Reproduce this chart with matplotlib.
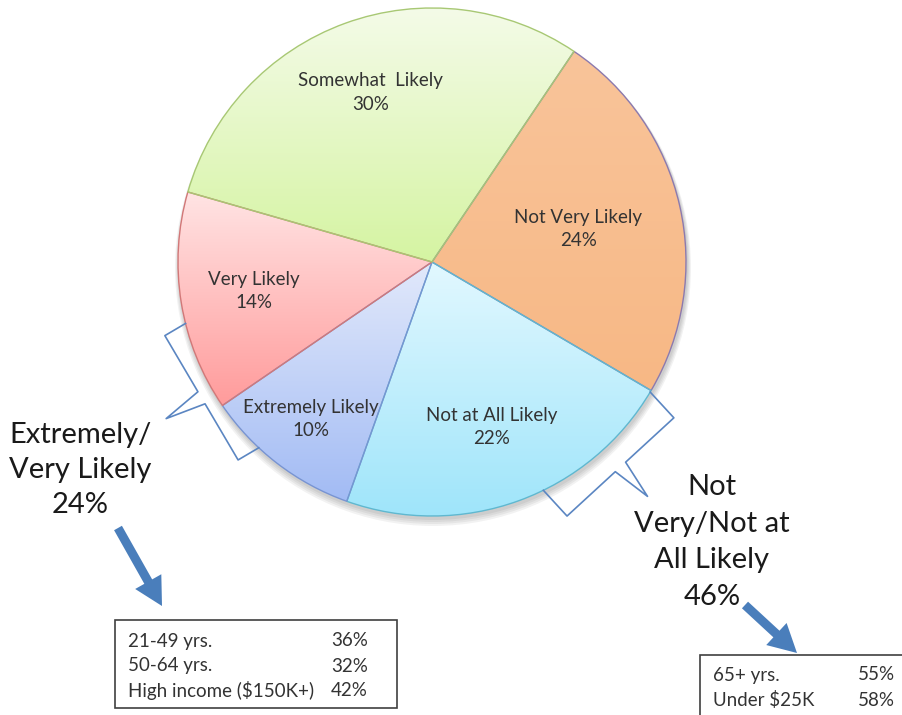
import numpy as np
import matplotlib
matplotlib.use("Agg")
import matplotlib.pyplot as plt
from matplotlib.colors import to_rgb
from matplotlib.patches import Rectangle, FancyArrow, Circle

plt.rc('font', family=['Lato', 'DejaVu Sans'])

# pie data (clockwise from the green/orange boundary)
labels = ["Not Very Likely", "Not at All Likely", "Extremely Likely", "Very Likely", "Somewhat  Likely"]
shares = [24, 22, 10, 14, 30]
top_colors = ["#f9c49a", "#e2f8ff", "#e2e9fb", "#ffe4e4", "#f4fbe8"]
bottom_colors = ["#f7b885", "#9fe5fa", "#a2bbf4", "#ff9b9b", "#d5f4a2"]
edge_colors = ["#8c7aae", "#5fb8d0", "#7894d2", "#d27878", "#a8c874"]
label_dist = [0.59, 0.69, 0.78, 0.71, 0.71]

# summary call-outs
group_left = "Extremely/\nVery Likely\n24%"
group_right = "Not\nVery/Not at\nAll Likely\n46%"
left_rows = ["21-49 yrs.", "50-64 yrs.", "High income ($150K+)"]
left_vals = ["36%", "32%", "42%"]
right_rows = ["65+ yrs.", "Under $25K"]
right_vals = ["55%", "58%"]

W, H = 902, 715
CX, CY, R = 432, H - 262, 254
TXT = "#333333"

fig = plt.figure(figsize=(W / 100, H / 100), dpi=100)
ax = fig.add_axes([0, 0, 1, 1])

# soft shadow under the pie
for i in range(4):
    ax.add_patch(Circle((CX + 1, CY - 3 - i), R + 1 + i, color="#000000", alpha=0.05, lw=0, zorder=1))

wedges, _ = ax.pie(shares, startangle=56, counterclock=False, center=(CX, CY), radius=R,
                   colors=bottom_colors, frame=True,
                   wedgeprops=dict(linewidth=1.0))
ax.set_xlim(0, W)
ax.set_ylim(0, H)
ax.set_aspect('equal')
ax.axis('off')

for w, c0, c1, ec in zip(wedges, top_colors, bottom_colors, edge_colors):
    w.set_edgecolor(ec)
    w.set_zorder(3)
    ext = w.get_path().get_extents()
    t = np.linspace(0, 1, 256)[:, None, None]
    grad = np.array(to_rgb(c1)) * (1 - t) + np.array(to_rgb(c0)) * t
    im = ax.imshow(grad, extent=(ext.x0, ext.x1, ext.y0, ext.y1), origin='lower',
                   aspect='auto', zorder=2, interpolation='bilinear')
    im.set_clip_path(w)
    w.set_facecolor('none')
ax.set_xlim(0, W)
ax.set_ylim(0, H)

# wedge labels
for w, lab, s, d in zip(wedges, labels, shares, label_dist):
    mid = np.deg2rad((w.theta1 + w.theta2) / 2)
    x = CX + d * R * np.cos(mid)
    y = CY + d * R * np.sin(mid)
    ax.text(x, y, f"{lab}\n{s}%", ha='center', va='center', fontsize=13.5,
            color=TXT, linespacing=1.45, zorder=5)


def brace(a0, a1, d1, d2, half=7):
    a0, a1 = np.deg2rad(a0), np.deg2rad(a1)
    p0 = np.array([CX + R * np.cos(a0), CY + R * np.sin(a0)])
    p1 = np.array([CX + R * np.cos(a1), CY + R * np.sin(a1)])
    along = (p1 - p0) / np.linalg.norm(p1 - p0)
    n = np.array([along[1], -along[0]])
    mid = (p0 + p1) / 2
    if np.dot(mid - np.array([CX, CY]), n) < 0:
        n = -n
    pts = [p0, p0 + n * d1, mid + n * d1 - along * half, mid + n * d2,
           mid + n * d1 + along * half, p1 + n * d1, p1]
    pts = np.array(pts)
    ax.plot(pts[:, 0], pts[:, 1], color="#5b86c2", lw=1.2, solid_joinstyle='round', zorder=4)


brace(194, 227, 24, 65)
brace(-30.8, -64, 35, 75)

ax.text(80, H - 470, group_left, ha='center', va='center', fontsize=21,
        color="#1a1a1a", linespacing=1.45)
ax.text(712, H - 542, group_right, ha='center', va='center', fontsize=21,
        color="#1a1a1a", linespacing=1.52)

arrow_c = "#4a7ebb"
ax.add_patch(FancyArrow(118, H - 528, 44, -78, width=9, head_width=30, head_length=28,
                        length_includes_head=True, color=arrow_c, lw=0))
ax.add_patch(FancyArrow(745, H - 605, 52, -48, width=9, head_width=30, head_length=28,
                        length_includes_head=True, color=arrow_c, lw=0))

# detail boxes
ax.add_patch(Rectangle((115, H - 708), 282, 88, fill=False, ec="#404040", lw=1.2))
for i, (r, v) in enumerate(zip(left_rows, left_vals)):
    y = H - 641 - i * 25
    ax.text(128, y, r, fontsize=13.5, color=TXT, va='center')
    ax.text(331, y, v, fontsize=13.5, color=TXT, va='center')

ax.add_patch(Rectangle((700, H - 740), 240, 85, fill=False, ec="#404040", lw=1.2))
for i, (r, v) in enumerate(zip(right_rows, right_vals)):
    y = H - 675 - i * 25
    ax.text(713, y, r, fontsize=13.5, color=TXT, va='center')
    ax.text(858, y, v, fontsize=13.5, color=TXT, va='center')

fig.savefig("out.png", dpi=100, facecolor="white")
